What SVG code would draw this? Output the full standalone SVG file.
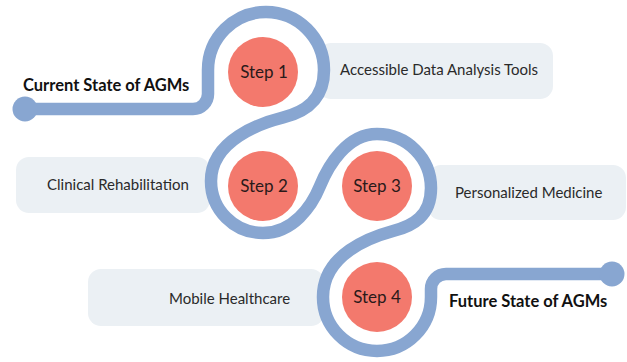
<svg xmlns="http://www.w3.org/2000/svg" width="627" height="362" viewBox="0 0 627 362">
<style>
.box{fill:#EBF0F4}
.track{fill:none;stroke:#88A6D1;stroke-width:12.5;stroke-linecap:round;stroke-linejoin:round}
.dot{fill:#88A6D1}
.step{fill:#F3796D}
.lbl{font-family:Lato,"Open Sans","DejaVu Sans",sans-serif;font-size:15px;fill:#2a2a2a}
.stp{font-family:Lato,"Open Sans","DejaVu Sans",sans-serif;font-size:17px;fill:#2a1a1a;text-anchor:middle}
.ttl{font-family:Lato,"Open Sans","DejaVu Sans",sans-serif;font-size:16.5px;font-weight:bold;fill:#111}
</style>
<rect width="627" height="362" fill="#ffffff"/>
<g id="box-accessible"><rect class="box" x="318" y="43" width="235" height="56" rx="13"/></g>
<g id="box-clinical"><rect class="box" x="16" y="157" width="194" height="56" rx="13"/></g>
<g id="box-personalized"><rect class="box" x="428" y="165" width="198" height="55" rx="13"/></g>
<g id="box-mobile"><rect class="box" x="88" y="269" width="236" height="57" rx="13"/></g>
<g id="connectors">
<path class="track" d="M 25 109 H 193 A 15 15 0 0 0 208 94 V 70 A 58 58 0 0 1 324 70 C 324 100 305 112 283 117.5 C 261 123 211 140 211 181 A 52 52 0 0 0 263 233 C 293 233 311.7 206.4 320 186 C 328.3 165.6 347 134 377 134 A 54 54 0 0 1 431 188 C 431 216 413 226 393 231 C 371 237 323 254 323 297 A 54 54 0 0 0 431 297 V 289 A 15 15 0 0 1 446 274 H 612"/>
<circle class="dot" cx="25" cy="109" r="12.5"/>
<circle class="dot" cx="612" cy="274" r="12.5"/>
</g>
<g id="step1"><circle class="step" cx="263" cy="72" r="35"/><text class="stp" x="264" y="78">Step 1</text></g>
<g id="step2"><circle class="step" cx="263" cy="186" r="35"/><text class="stp" x="264" y="192">Step 2</text></g>
<g id="step3"><circle class="step" cx="377" cy="186" r="35"/><text class="stp" x="377" y="192">Step 3</text></g>
<g id="step4"><circle class="step" cx="377" cy="297" r="35"/><text class="stp" x="377" y="303">Step 4</text></g>
<g id="label-accessible"><text class="lbl" x="340" y="75">Accessible Data Analysis Tools</text></g>
<g id="label-clinical"><text class="lbl" x="47" y="190">Clinical Rehabilitation</text></g>
<g id="label-personalized"><text class="lbl" x="455" y="198">Personalized Medicine</text></g>
<g id="label-mobile"><text class="lbl" x="169" y="304">Mobile Healthcare</text></g>
<g id="title-current"><text class="ttl" x="23" y="91">Current State of AGMs</text></g>
<g id="title-future"><text class="ttl" x="449" y="307">Future State of AGMs</text></g>
</svg>
